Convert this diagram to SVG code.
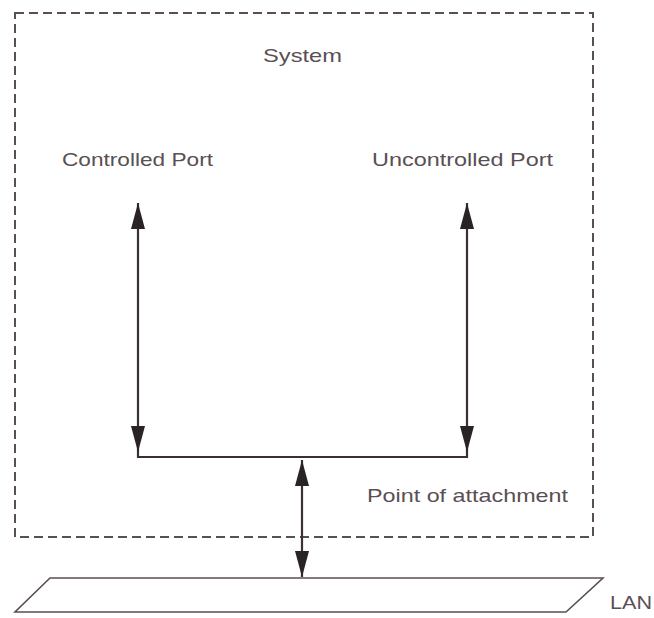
<svg xmlns="http://www.w3.org/2000/svg" width="654" height="618" viewBox="0 0 654 618">
  <style>
    .lbl { font-family: "Liberation Sans", Arial, sans-serif; font-size: 19px; fill: #5a4f54; }
    .dash { fill: none; stroke: #5a4f54; stroke-width: 2; stroke-dasharray: 9 5; }
    .wire { fill: none; stroke: #3a3034; stroke-width: 2.2; }
    .edge { fill: none; stroke: #5a4f54; stroke-width: 1.6; }
  </style>
  <defs>
    <marker id="headLg" viewBox="0 0 10 10" refX="10" refY="5" markerWidth="26" markerHeight="14" markerUnits="userSpaceOnUse" orient="auto-start-reverse" preserveAspectRatio="none">
      <path d="M0,0 L10,5 L0,10 Z" fill="#2a2326"/>
    </marker>
  </defs>
  <rect width="654" height="618" fill="#ffffff"/>

  <g id="system">
    <rect class="dash" x="15" y="13" width="578" height="524"/>
    <text class="lbl" x="263" y="62" textLength="79" lengthAdjust="spacingAndGlyphs">System</text>
  </g>

  <g id="controlled-port">
    <text class="lbl" x="62" y="166" textLength="151" lengthAdjust="spacingAndGlyphs">Controlled Port</text>
  </g>

  <g id="uncontrolled-port">
    <text class="lbl" x="372" y="166" textLength="181" lengthAdjust="spacingAndGlyphs">Uncontrolled Port</text>
  </g>

  <g id="point-of-attachment">
    <text class="lbl" x="367" y="502" textLength="201" lengthAdjust="spacingAndGlyphs">Point of attachment</text>
  </g>

  <g id="lan">
    <path class="edge" d="M50,578 L603,578 L566,612 L15,612 Z"/>
    <text class="lbl" x="610" y="609" font-size="17" textLength="42" lengthAdjust="spacingAndGlyphs">LAN</text>
  </g>

  <g id="connectors">
    <line class="wire" x1="138" y1="203" x2="138" y2="452" marker-start="url(#headLg)" marker-end="url(#headLg)"/>
    <line class="wire" x1="467" y1="203" x2="467" y2="452" marker-start="url(#headLg)" marker-end="url(#headLg)"/>
    <polyline class="wire" points="138,452 138,457 467,457 467,452" stroke="#5a4f54"/>
    <line class="wire" x1="302" y1="460" x2="302" y2="577" marker-start="url(#headLg)" marker-end="url(#headLg)" stroke="#5a4f54"/>
  </g>
</svg>
